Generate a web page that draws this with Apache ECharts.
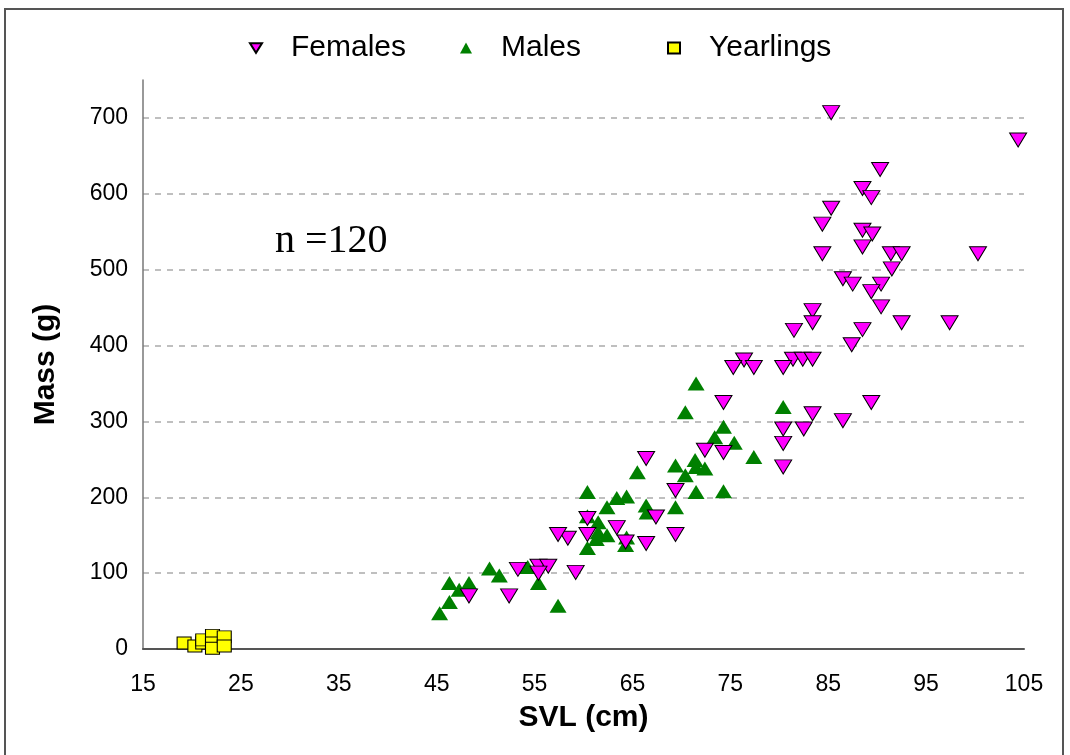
<!DOCTYPE html>
<html>
<head>
<meta charset="utf-8">
<script src="https://cdn.jsdelivr.net/npm/echarts@6/dist/echarts.min.js"></script>
<style>
  html, body { margin: 0; padding: 0; background: #fff; }
  #main { width: 1070px; height: 755px; }
</style>
</head>
<body>
<div id="main"></div>
<script>
// values
var femaleSVL = [85.3, 104.4, 90.3, 88.5, 89.4, 85.3, 84.4, 88.5, 89.5, 88.5, 84.4, 91.4, 92.5, 100.3, 91.5,
  86.5, 87.5, 90.4, 89.4, 90.4, 83.4, 83.4, 92.5, 97.4, 81.5, 88.5, 87.4, 81.4, 82.4, 83.4, 80.4, 76.4, 75.3,
  77.4, 74.3, 89.4, 83.4, 86.5, 80.4, 82.5, 80.4, 80.4, 72.4, 74.3, 66.4, 69.4, 67.4, 60.4, 63.4, 60.4, 69.4,
  58.4, 57.4, 66.4, 64.3, 59.2, 55.4, 56.4, 55.4, 53.3, 52.4, 48.3];
var femaleMass = [707, 671, 632, 607, 595, 581, 560, 552, 547, 530, 521, 521, 521, 521, 501,
  488, 481, 481, 471, 451, 446, 430, 430, 430, 420, 421, 401, 382, 382, 382, 371, 381, 371,
  371, 325, 325, 310, 301, 290, 290, 271, 240, 262, 259, 251, 209, 174, 172, 160, 151, 151,
  146, 151, 139, 141, 101, 109, 109, 100, 105, 70, 70];

var maleSVL = [45.3, 46.3, 46.3, 47.3, 48.3, 50.4, 51.4, 54.3, 55.4, 57.4, 60.4, 61.3, 62.4, 61.5, 64.4,
  64.3, 61.5, 60.4, 62.4, 63.4, 64.4, 60.4, 66.4, 66.5, 69.4, 65.5, 69.4, 70.4, 71.4, 72.4, 71.5, 71.5,
  74.3, 73.4, 74.3, 75.4, 77.4, 70.4, 71.5, 80.4];
var maleMass = [47, 62, 87, 78, 87, 106, 97, 108, 87, 57, 133, 145, 150, 154, 147,
  137, 167, 175, 187, 199, 201, 207, 189, 180, 187, 233, 242, 229, 249, 238, 240, 207,
  208, 279, 293, 272, 253, 312, 350, 319];

var yearlingSVL = [19.2, 20.3, 21.1, 21.1, 22.1, 22.1, 22.1, 23.3, 23.3];
var yearlingMass = [8, 4, 8, 12, 18, 8, 1, 16, 4];

var xTicks = { min: 15, max: 105, step: 10 };
var yTicks = { min: 0, max: 750, step: 100 };

function pairs(xs, ys) {
  return xs.map(function (x, i) { return [x, ys[i]]; });
}

var downTri = 'path://M0,0L20,0L10,16Z';
var font = '"Liberation Sans", Arial, sans-serif';

var chart = echarts.init(document.getElementById('main'));

var legendBase = {
  top: 28,
  itemWidth: 12,
  itemHeight: 11,
  textStyle: { fontFamily: font, fontSize: 30, color: '#000', padding: [0, 0, 0, 24] },
  selectedMode: false
};

chart.setOption({
  animation: false,
  backgroundColor: '#fff',
  title: {
    text: 'n =120',
    left: 270,
    top: 216,
    textStyle: { fontFamily: '"Liberation Serif", "Times New Roman", serif', fontSize: 40, fontWeight: 'normal', color: '#000' }
  },
  legend: [
    Object.assign({}, legendBase, { left: 244, data: [{ name: 'Females', icon: downTri }] }),
    Object.assign({}, legendBase, { left: 455, data: [{ name: 'Males', icon: 'triangle' }] }),
    Object.assign({}, legendBase, { left: 662, data: [{ name: 'Yearlings', icon: 'rect' }] })
  ],
  grid: { left: 143, right: 46, top: 80, bottom: 106 },
  xAxis: {
    type: 'value',
    min: xTicks.min,
    max: xTicks.max,
    interval: xTicks.step,
    name: 'SVL (cm)',
    nameLocation: 'middle',
    nameGap: 54,
    nameTextStyle: { fontFamily: font, fontSize: 30, fontWeight: 'bold', color: '#000' },
    axisLine: { lineStyle: { color: '#555', width: 2 } },
    axisTick: { show: false },
    axisLabel: { fontFamily: font, fontSize: 23, color: '#000', margin: 24 },
    splitLine: { show: false }
  },
  yAxis: {
    type: 'value',
    min: yTicks.min,
    max: yTicks.max,
    interval: yTicks.step,
    name: 'Mass (g)',
    nameLocation: 'middle',
    nameGap: 82,
    nameRotate: 90,
    nameTextStyle: { fontFamily: font, fontSize: 30, fontWeight: 'bold', color: '#000' },
    axisLine: { show: true, lineStyle: { color: '#777', width: 1.5 } },
    axisTick: { show: false },
    axisLabel: { fontFamily: font, fontSize: 23, color: '#000', margin: 15, showMaxLabel: false },
    splitLine: {
      show: true,
      lineStyle: {
        type: [6, 6],
        width: 1.5,
        color: ['#aaa', '#aaa', '#aaa', '#aaa', '#aaa', '#aaa', '#aaa', '#aaa', 'rgba(0,0,0,0)']
      }
    }
  },
  series: [
    {
      name: 'Females',
      type: 'scatter',
      symbol: downTri,
      symbolSize: [17, 14],
      itemStyle: { color: '#ff00ff', borderColor: '#000', borderWidth: 1, opacity: 1 },
      data: pairs(femaleSVL, femaleMass),
      z: 3
    },
    {
      name: 'Males',
      type: 'scatter',
      symbol: 'triangle',
      symbolSize: [17, 14],
      itemStyle: { color: '#008000', opacity: 1 },
      data: pairs(maleSVL, maleMass),
      z: 2
    },
    {
      name: 'Yearlings',
      type: 'scatter',
      symbol: 'rect',
      symbolSize: [14, 12],
      itemStyle: { color: '#ffff00', borderColor: '#000', borderWidth: 1, opacity: 1 },
      data: pairs(yearlingSVL, yearlingMass),
      z: 4
    }
  ],
  graphic: [
    {
      type: 'rect',
      shape: { x: 5, y: 9, width: 1058, height: 760 },
      style: { fill: 'none', stroke: '#555', lineWidth: 2 },
      silent: true
    }
  ]
});
</script>
</body>
</html>
